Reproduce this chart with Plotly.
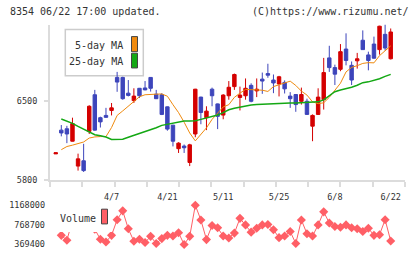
import plotly.graph_objects as go

# ---------------- data ----------------
dates = ["3/24", "3/25", "3/26", "3/27", "3/30", "3/31", "4/1", "4/2", "4/3", "4/6",
         "4/7", "4/8", "4/9", "4/10", "4/13", "4/14", "4/15", "4/16", "4/17", "4/20",
         "4/21", "4/22", "4/23", "4/24", "4/27", "4/28", "4/30", "5/1", "5/7", "5/8",
         "5/11", "5/12", "5/13", "5/14", "5/15", "5/18", "5/19", "5/20", "5/21", "5/22",
         "5/25", "5/26", "5/27", "5/28", "5/29", "6/1", "6/2", "6/3", "6/4", "6/5",
         "6/8", "6/9", "6/10", "6/11", "6/12", "6/15", "6/16", "6/17", "6/18", "6/19",
         "6/22"]

open_ = [6035, 6245, 6257, 6147, 5927, 5974, 6234, 6558, 6355, 6375,
         6419, 6711, 6711, 6572, 6506, 6615, 6618, 6711, 6563, 6558,
         6451, 6289, 6081, 6104, 5959, 6211, 6537, 6355, 6607, 6477,
         6378, 6549, 6630, 6534, 6549, 6641, 6592, 6696, 6745, 6688,
         6653, 6667, 6546, 6560, 6500, 6500, 6280, 6384, 6514, 6884,
         6798, 6783, 6962, 6818, 6858, 7040, 6910, 7006, 6957, 7092,
         6876]
high = [6045, 6290, 6283, 6355, 6037, 6124, 6465, 6601, 6364, 6442,
        6485, 6760, 6717, 6688, 6615, 6618, 6679, 6714, 6601, 6572,
        6454, 6292, 6138, 6118, 6124, 6610, 6540, 6456, 6621, 6480,
        6563, 6679, 6745, 6630, 6702, 6659, 6702, 6754, 6832, 6737,
        6725, 6685, 6581, 6563, 6621, 6523, 6384, 6615, 6884, 6991,
        6824, 7006, 7101, 6852, 6928, 7127, 6939, 7072, 7168, 7179,
        7144]
low = [6035, 6190, 6130, 6145, 5887, 5875, 6211, 6240, 6268, 6355,
       6375, 6584, 6514, 6543, 6485, 6529, 6598, 6586, 6520, 6378,
       6240, 6101, 6043, 6043, 5927, 6182, 6297, 6245, 6456, 6254,
       6341, 6514, 6601, 6419, 6514, 6491, 6537, 6566, 6708, 6572,
       6543, 6569, 6442, 6407, 6471, 6380, 6147, 6380, 6427, 6760,
       6644, 6766, 6818, 6644, 6789, 6955, 6774, 6878, 6913, 6948,
       6870]
close = [6045, 6220, 6211, 6303, 5991, 5887, 6456, 6245, 6318, 6358,
         6442, 6670, 6523, 6552, 6546, 6549, 6601, 6615, 6523, 6384,
         6254, 6147, 6130, 6089, 6115, 6607, 6401, 6413, 6549, 6367,
         6555, 6624, 6737, 6555, 6615, 6500, 6607, 6679, 6731, 6662,
         6717, 6610, 6523, 6471, 6560, 6384, 6375, 6537, 6754, 6798,
         6740, 6939, 6861, 6688, 6876, 6957, 6861, 6881, 7164, 6971,
         7113]

ma5 = [None, 6072, 6100, 6112, 6128, 6140, 6175, 6185, 6188, 6188,
       6268, 6375, 6415, 6456, 6505, 6540, 6558, 6563, 6563, 6565,
       6545, 6470, 6400, 6315, 6220, 6150, 6205, 6265, 6340, 6400,
       6450, 6470, 6535, 6572, 6605, 6603, 6601, 6598, 6587, 6630,
       6646, 6660, 6678, 6640, 6590, 6555, 6495, 6479, 6487, 6535,
       6600, 6660, 6760, 6800, 6815, 6835, 6842, 6840, 6904, 6950,
       6990]
ma25 = [None, 6343, 6325, 6305, 6278, 6252, 6228, 6205, 6196, 6184,
        6163, 6162, 6165, 6182, 6198, 6212, 6228, 6245, 6266, 6287,
        6295, 6303, 6315, 6325, 6326, 6328, 6340, 6352, 6365, 6378,
        6400, 6425, 6438, 6448, 6462, 6468, 6472, 6475, 6478, 6482,
        6485, 6486, 6486, 6486, 6487, 6488, 6492, 6495, 6512, 6550,
        6585, 6600, 6610, 6625, 6642, 6665, 6672, 6685, 6700, 6720,
        6738]

volume = [None, 555000, 455000, 860000, 950000, 820000, 720000, 680000, 475000, 421000,
          555000, 874000, 1054000, 689000, 435000, 475000, 409000, 535000, 389000, 489000,
          555000, 541000, 609000, 369400, 535000, 1168000, 868000, 469000, 755000, 709000,
          541000, 501000, 601000, 901000, 768000, 621000, 701000, 768000, 775000, 669000,
          509000, 541000, 635000, 389000, 868000, 589000, 541000, 768000, 1034000, 808000,
          735000, 721000, 768000, 709000, 689000, 635000, 701000, 555000, 569000, 874000,
          441000]

date_ticks = ["4/7", "4/21", "5/11", "5/25", "6/8", "6/22"]
price_ticks = [5800, 6500]
volume_ticks = [369400, 768700, 1168000]

# ---------------- styling ----------------
W, H = 420, 259
RED = "#d40000"
BLUE = "#3d45bb"
ORANGE = "#ef8a0e"
GREEN = "#14a814"
VOLC = "#ff5f66"
AX = "#dcdcdc"
TXT = "#333333"
FONT = "DejaVu Sans Mono"

def px(x):
    return x / W

def py(y):
    return 1 - y / H

idx = list(range(len(dates)))
xr = [-1.024, 62.56]
minor_vals = [xr[0] + k * (xr[1] - xr[0]) / 11 for k in range(12)]
tick_pos = [dates.index(d) for d in date_ticks]

fig = go.Figure()

fig.add_trace(go.Candlestick(
    x=idx, open=open_, high=high, low=low, close=close,
    increasing=dict(line=dict(color=RED, width=1), fillcolor=RED),
    decreasing=dict(line=dict(color=BLUE, width=1), fillcolor=BLUE),
    whiskerwidth=0, xaxis="x", yaxis="y", hoverinfo="skip"))

fig.add_trace(go.Scatter(x=idx, y=ma5, mode="lines",
                         line=dict(color=ORANGE, width=1),
                         xaxis="x", yaxis="y", hoverinfo="skip"))
fig.add_trace(go.Scatter(x=idx, y=ma25, mode="lines",
                         line=dict(color=GREEN, width=1.5),
                         xaxis="x", yaxis="y", hoverinfo="skip"))

fig.add_trace(go.Scatter(x=idx, y=volume, mode="lines+markers",
                         line=dict(color=VOLC, width=1),
                         marker=dict(symbol="diamond", size=7, color=VOLC),
                         xaxis="x2", yaxis="y2", hoverinfo="skip"))

tickfont = dict(family=FONT, size=8.5, color=TXT)

fig.update_layout(
    width=W, height=H,
    margin=dict(l=0, r=0, t=0, b=0),
    paper_bgcolor="white",
    plot_bgcolor="rgba(0,0,0,0)",
    showlegend=False,
    boxgap=0.12,
    xaxis=dict(
        domain=[px(50), px(405)], range=xr, anchor="y",
        showline=True, linecolor=AX, linewidth=2,
        tickmode="array", tickvals=tick_pos, ticktext=date_ticks,
        ticks="", tickfont=tickfont, ticklabelstandoff=7,
        showgrid=False, zeroline=False,
        rangeslider=dict(visible=False),
        minor=dict(tickmode="array", tickvals=minor_vals, ticks="outside",
                   ticklen=5, tickwidth=2, tickcolor=AX, showgrid=False),
    ),
    yaxis=dict(
        domain=[py(184), py(25)], range=[5800, 7179], anchor="x",
        showline=True, linecolor=AX, linewidth=2,
        tickmode="array", tickvals=price_ticks,
        ticktext=[str(v) for v in price_ticks],
        ticks="outside", ticklen=4, tickwidth=2, tickcolor=AX,
        tickfont=tickfont, ticklabelstandoff=5,
        showgrid=False, zeroline=False,
    ),
    xaxis2=dict(domain=[px(50), px(405)], range=xr, anchor="y2", visible=False),
    yaxis2=dict(
        domain=[py(256), py(203)], range=[235634, 1293780], anchor="x2",
        showline=False, tickmode="array", tickvals=volume_ticks,
        ticktext=[str(v) for v in volume_ticks],
        ticks="", tickfont=tickfont, ticklabelstandoff=4,
        showgrid=False, zeroline=False,
    ),
)

shapes = [
    # main legend box (behind candles)
    dict(type="rect", xref="paper", yref="paper",
         x0=px(65.3), x1=px(143.3), y0=py(77.3), y1=py(30),
         line=dict(color="#cccccc", width=1.5), fillcolor="white", layer="below"),
    dict(type="rect", xref="paper", yref="paper",
         x0=px(131.5), x1=px(137.5), y0=py(52.7), y1=py(37.3),
         line=dict(color="#444444", width=1), fillcolor=ORANGE, layer="above"),
    dict(type="rect", xref="paper", yref="paper",
         x0=px(131.5), x1=px(137.5), y0=py(69.3), y1=py(54.3),
         line=dict(color="#444444", width=1), fillcolor=GREEN, layer="above"),
    # volume legend box (covers line)
    dict(type="rect", xref="paper", yref="paper",
         x0=px(56), x1=px(112), y0=py(236.5), y1=py(206),
         line=dict(width=0), fillcolor="white", layer="above"),
    dict(type="rect", xref="paper", yref="paper",
         x0=px(101.5), x1=px(107.5), y0=py(228.3), y1=py(213.3),
         line=dict(color="#444444", width=1), fillcolor=VOLC, layer="above"),
]

afont = dict(family=FONT, size=10, color=TXT)
annotations = [
    dict(text="8354 06/22 17:00 updated.", x=px(7.5), y=py(12), xref="paper", yref="paper",
         xanchor="left", yanchor="middle", showarrow=False, font=afont),
    dict(text="(C)https://www.rizumu.net/", x=px(411), y=py(12), xref="paper", yref="paper",
         xanchor="right", yanchor="middle", showarrow=False, font=afont),
    dict(text="5-day MA", x=px(125), y=py(46), xref="paper", yref="paper",
         xanchor="right", yanchor="middle", showarrow=False, font=afont),
    dict(text="25-day MA", x=px(125), y=py(63), xref="paper", yref="paper",
         xanchor="right", yanchor="middle", showarrow=False, font=afont),
    dict(text="Volume", x=px(57.5), y=py(222.5), xref="paper", yref="paper",
         xanchor="left", yanchor="middle", showarrow=False, font=afont),
]

fig.update_layout(shapes=shapes, annotations=annotations)

fig.write_html("out.html")
